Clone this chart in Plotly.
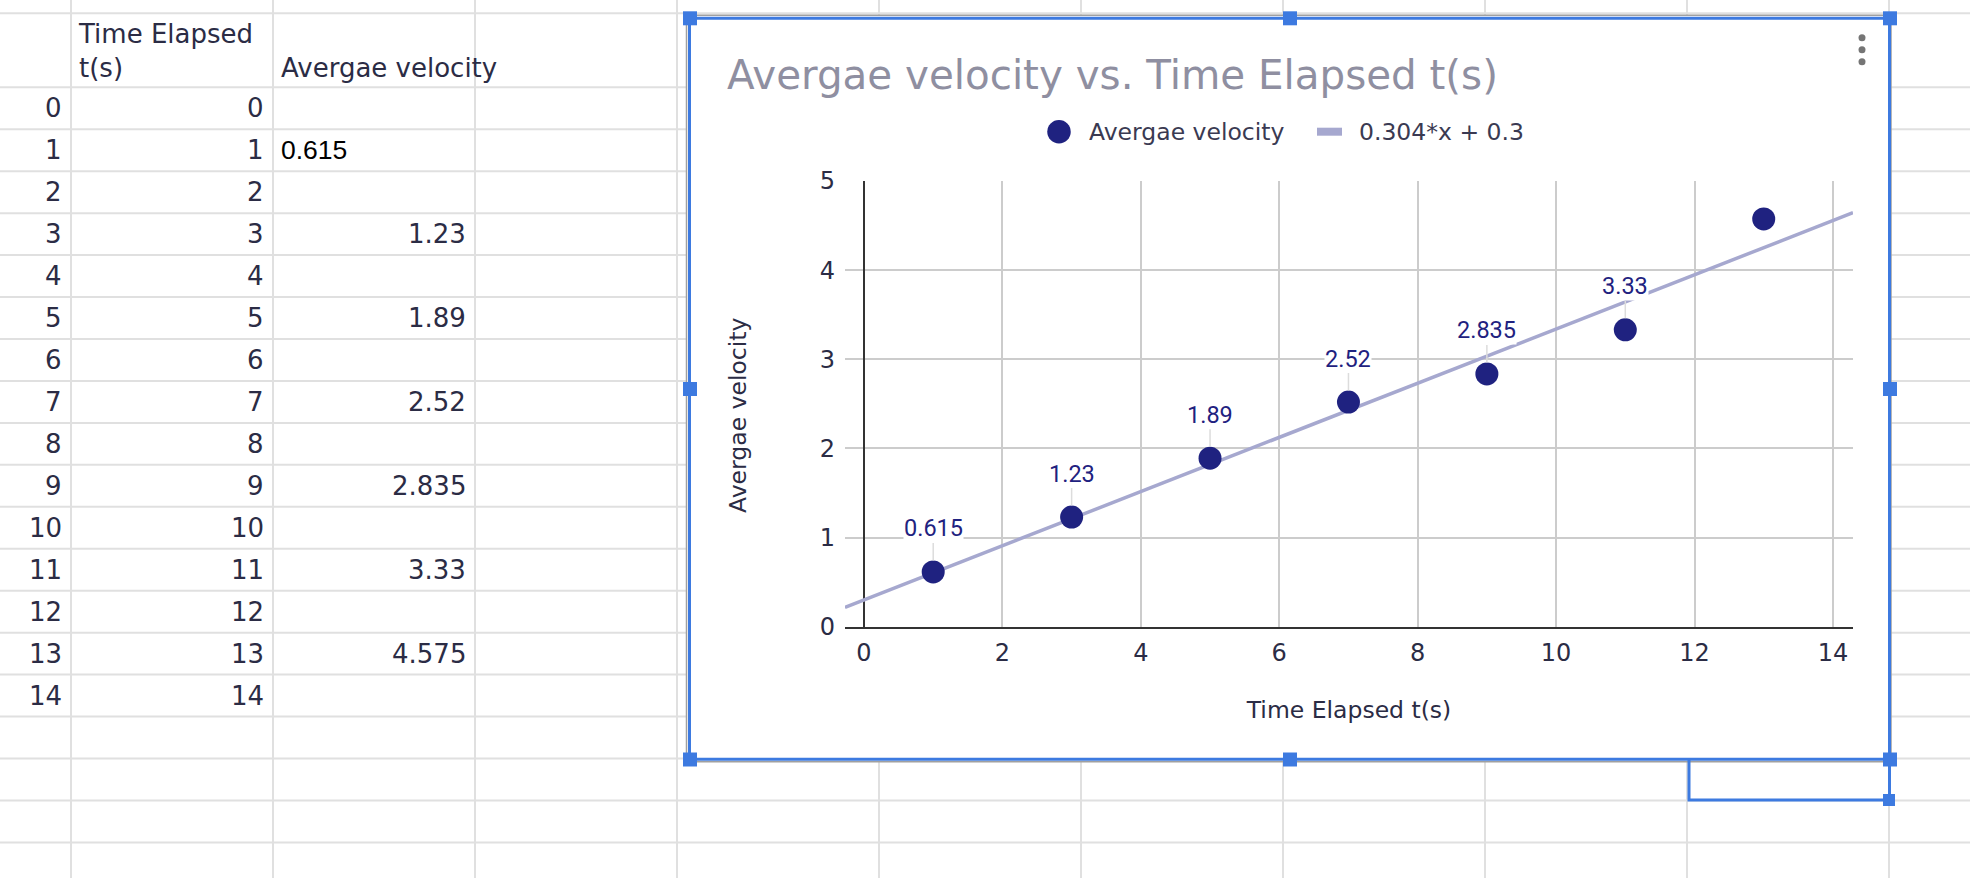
import numpy as np
import plotly.graph_objects as go

W, H = 1970, 878

# ---------------- data ----------------
row_index = [0, 1, 2, 3, 4, 5, 6, 7, 8, 9, 10, 11, 12, 13, 14]
time_elapsed = [0, 1, 2, 3, 4, 5, 6, 7, 8, 9, 10, 11, 12, 13, 14]
# "0.615" is stored as a text cell in the sheet (left aligned), the rest are numbers
avg_velocity = [None, "0.615", None, 1.23, None, 1.89, None, 2.52, None, 2.835,
                None, 3.33, None, 4.575, None]
header_time = "Time Elapsed<br>t(s)"
header_vel = "Avergae velocity"
chart_title = "Avergae velocity vs. Time Elapsed t(s)"
x_title = "Time Elapsed t(s)"
y_title = "Avergae velocity"
x_ticks = [0, 2, 4, 6, 8, 10, 12, 14]
y_ticks = [0, 1, 2, 3, 4, 5]
x_range = [-0.2745, 14.29]
y_range = [0, 5]

# ---------------- styles ----------------
SHEET_GRID = "#e0e0e0"
TXT = "#2b2c45"
NAVY = "#1f2280"
TREND = "#a6a8cf"
BLUE = "#3d7ae0"
FONT = "DejaVu Sans"

def X(p):
    return p / W

def Y(p):
    return 1 - p / H

# plot area in pixels
PL, PR, PT, PB = 845, 1853, 181, 626.7

pts_x = [t for t, v in zip(time_elapsed, avg_velocity) if v is not None]
pts_y = [float(v) for v in avg_velocity if v is not None]
slope, intercept = np.polyfit(pts_x, pts_y, 1)
trend_label = f"{slope:.3g}*x + {intercept:.3g}"
trend_x = np.array(x_range)
trend_y = slope * trend_x + intercept

fig = go.Figure()
fig.add_trace(go.Scatter(x=trend_x, y=trend_y, mode="lines", name=trend_label,
                         line=dict(color=TREND, width=3.5), hoverinfo="skip",
                         showlegend=False))
fig.add_trace(go.Scatter(x=pts_x, y=pts_y, mode="markers", name=y_title,
                         marker=dict(color=NAVY, size=23, line=dict(width=0)),
                         showlegend=False))

shapes = []
annotations = []

# ---------- spreadsheet grid ----------
col_lines = [71, 273, 475, 677, 879, 1081, 1283, 1485, 1687, 1889]
header_top, header_bottom, row_h = 13.3, 87.3, 41.95
row_lines = [header_top]
yy = header_bottom
while yy < H:
    row_lines.append(yy)
    yy += row_h
for cx in col_lines:
    shapes.append(dict(type="line", xref="paper", yref="paper", x0=X(cx), x1=X(cx),
                       y0=Y(0), y1=Y(H), line=dict(color=SHEET_GRID, width=2), layer="below"))
for ry in row_lines:
    shapes.append(dict(type="line", xref="paper", yref="paper", x0=X(0), x1=X(W),
                       y0=Y(ry), y1=Y(ry), line=dict(color=SHEET_GRID, width=2), layer="below"))

# table header
annotations.append(dict(xref="paper", yref="paper", x=X(76), y=Y(51), xanchor="left",
                        yanchor="middle", align="left", text=header_time, showarrow=False,
                        font=dict(family=FONT, size=26, color=TXT)))
annotations.append(dict(xref="paper", yref="paper", x=X(279), y=Y(67.7), xanchor="left",
                        yanchor="middle", align="left", text=header_vel, showarrow=False,
                        font=dict(family=FONT, size=26, color=TXT)))
# table rows
for i, (r, t, v) in enumerate(zip(row_index, time_elapsed, avg_velocity)):
    cy = header_bottom + row_h * (i + 0.5)
    annotations.append(dict(xref="paper", yref="paper", x=X(64), y=Y(cy), xanchor="right",
                            yanchor="middle", text=str(r), showarrow=False,
                            font=dict(family=FONT, size=26, color=TXT)))
    annotations.append(dict(xref="paper", yref="paper", x=X(265.5), y=Y(cy), xanchor="right",
                            yanchor="middle", text=str(t), showarrow=False,
                            font=dict(family=FONT, size=26, color=TXT)))
    if isinstance(v, str):
        annotations.append(dict(xref="paper", yref="paper", x=X(279), y=Y(cy), xanchor="left",
                                yanchor="middle", text=v, showarrow=False,
                                font=dict(family="Liberation Sans", size=26.5, color="#000000")))
    elif v is not None:
        annotations.append(dict(xref="paper", yref="paper", x=X(468), y=Y(cy), xanchor="right",
                                yanchor="middle", text=f"{v:g}", showarrow=False,
                                font=dict(family=FONT, size=26, color=TXT)))

# ---------- chart box ----------
BX0, BX1, BY0, BY1 = 689.5, 1889.5, 18.3, 759.3
shapes.append(dict(type="rect", xref="paper", yref="paper", x0=X(BX0 - 3), x1=X(BX1 + 1.5),
                   y0=Y(BY0 - 3), y1=Y(BY1 + 2.5), fillcolor="#ffffff",
                   line=dict(color="#a0a0a0", width=1.5), layer="below"))
shapes.append(dict(type="rect", xref="paper", yref="paper", x0=X(BX0), x1=X(BX1),
                   y0=Y(BY0), y1=Y(BY1), fillcolor="#ffffff",
                   line=dict(color=BLUE, width=3), layer="below"))
# selected cell bracket under the chart
shapes.append(dict(type="path", xref="paper", yref="paper",
                   path=f"M {X(1689)} {Y(BY1)} L {X(1689)} {Y(800)} L {X(1889.5)} {Y(800)} L {X(1889.5)} {Y(BY1)}",
                   line=dict(color=BLUE, width=3), layer="below"))
# handles
hs = 7
for hx in (690, 1290, 1890):
    for hy in (18.3, 389, 759.5):
        if hx == 1290 and hy == 389:
            continue
        shapes.append(dict(type="rect", xref="paper", yref="paper", x0=X(hx - hs), x1=X(hx + hs),
                           y0=Y(hy - hs), y1=Y(hy + hs), fillcolor=BLUE,
                           line=dict(width=0), layer="above"))
shapes.append(dict(type="rect", xref="paper", yref="paper", x0=X(1889 - 6), x1=X(1889 + 6),
                   y0=Y(800 - 6), y1=Y(800 + 6), fillcolor=BLUE, line=dict(width=0), layer="above"))
# menu dots
for dy in (37.7, 49.7, 61.7):
    shapes.append(dict(type="circle", xref="paper", yref="paper", x0=X(1862 - 3.5), x1=X(1862 + 3.5),
                       y0=Y(dy - 3.5), y1=Y(dy + 3.5), fillcolor="#757575",
                       line=dict(width=0), layer="above"))

# ---------- custom legend ----------
LY = 131.7
shapes.append(dict(type="circle", xref="paper", yref="paper", x0=X(1059 - 11.75), x1=X(1059 + 11.75),
                   y0=Y(LY - 11.75), y1=Y(LY + 11.75), fillcolor=NAVY, line=dict(width=0),
                   layer="above"))
annotations.append(dict(xref="paper", yref="paper", x=X(1087), y=Y(LY), xanchor="left",
                        yanchor="middle", text=y_title, showarrow=False,
                        font=dict(family=FONT, size=23.5, color="#3a3a52")))
shapes.append(dict(type="line", xref="paper", yref="paper", x0=X(1317), x1=X(1342),
                   y0=Y(LY), y1=Y(LY), line=dict(color=TREND, width=8), layer="above"))
annotations.append(dict(xref="paper", yref="paper", x=X(1357), y=Y(LY), xanchor="left",
                        yanchor="middle", text=trend_label, showarrow=False,
                        font=dict(family=FONT, size=23.5, color="#3a3a52")))

# ---------- y axis title (centred a little below the plot middle, as in the original) ----------
annotations.append(dict(xref="paper", yref="paper", x=X(738), y=Y(416), xanchor="center",
                        yanchor="middle", text=y_title, textangle=-90, showarrow=False,
                        font=dict(family=FONT, size=23.5, color=TXT)))

# ---------- data labels ----------
px_per_unit = (PB - PT) / (y_range[1] - y_range[0])
LABEL_OFF = 43.5
for xv, yv in zip(pts_x, pts_y):
    if yv + LABEL_OFF / px_per_unit > y_range[1]:
        continue  # label would fall outside the plot area
    annotations.append(dict(x=xv, y=yv, xref="x", yref="y", text=f"{yv:g}", showarrow=True,
                            arrowhead=0, arrowwidth=1.5, arrowcolor="#dcdcdc", ax=0, ay=-LABEL_OFF,
                            standoff=11.5, bgcolor="#ffffff", borderpad=0,
                            font=dict(family="Roboto", size=23.5, color=NAVY)))

fig.update_layout(
    width=W, height=H, autosize=False,
    margin=dict(l=0, r=0, t=0, b=0),
    template="none",
    paper_bgcolor="#ffffff", plot_bgcolor="#ffffff",
    showlegend=False,
    title=dict(text=chart_title, x=X(727), xanchor="left", y=Y(75), yanchor="middle",
               xref="paper", yref="paper",
               font=dict(family=FONT, size=40.4, color="#8f8fa1")),
    xaxis=dict(domain=[X(PL), X(PR)], range=x_range, tickvals=x_ticks,
               showgrid=True, gridcolor="#cccccc", gridwidth=2,
               zeroline=True, zerolinecolor="#333333", zerolinewidth=2,
               showline=True, linecolor="#333333", linewidth=2,
               ticks="", ticklabelstandoff=3,
               tickfont=dict(family=FONT, size=24, color=TXT),
               title=dict(text=x_title, standoff=36, font=dict(family=FONT, size=23.5, color=TXT))),
    yaxis=dict(domain=[Y(PB), Y(PT)], range=y_range, tickvals=y_ticks,
               showgrid=True, gridcolor="#cccccc", gridwidth=2,
               zeroline=False, showline=False,
               ticks="", ticklabelstandoff=9,
               tickfont=dict(family=FONT, size=24, color=TXT)),
    shapes=shapes,
    annotations=annotations,
)

fig.write_html("out.html", config={"displayModeBar": False},
               post_script="document.body.style.margin='0';document.body.style.overflow='hidden';")
